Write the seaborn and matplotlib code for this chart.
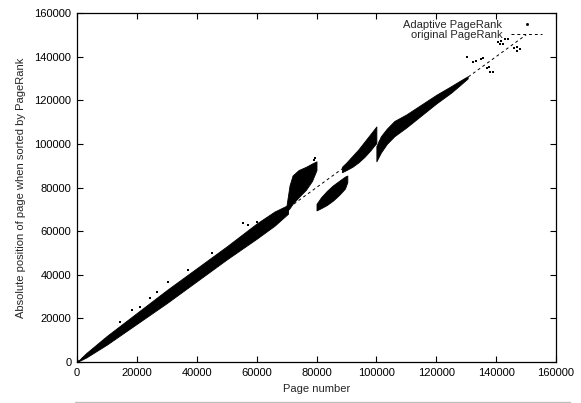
import matplotlib
matplotlib.use("Agg")
import matplotlib.pyplot as plt
from matplotlib.lines import Line2D
import seaborn as sns
import pandas as pd

# Dense Adaptive PageRank bands: page number, lower and upper rank bound
main_x  = [0, 3000, 10000, 20000, 30000, 40000, 50000, 60000, 66000, 70500]
main_lo = [0, 2000, 8000, 17500, 27000, 37000, 47000, 56500, 62500, 68000]
main_hi = [0, 4000, 12000, 22500, 33000, 43000, 53000, 63500, 69000, 72000]

upper_blob_x  = [70000, 71000, 72000, 74000, 76500, 78500, 80000]
upper_blob_lo = [69000, 70500, 72500, 75500, 79000, 83000, 88000]
upper_blob_hi = [72000, 81000, 85500, 88000, 89500, 91000, 92000]

lower_blob_x  = [80000, 81500, 83500, 85500, 87500, 89500, 90300]
lower_blob_lo = [69500, 70500, 72000, 74000, 76500, 79500, 82500]
lower_blob_hi = [72500, 75500, 78500, 81000, 83000, 85000, 85500]

spike_x  = [88500, 90000, 92000, 94000, 96000, 98000, 100000]
spike_lo = [87000, 88000, 89500, 91500, 94000, 97000, 100500]
spike_hi = [89500, 91500, 94500, 97500, 101000, 104500, 108000]

tail_x  = [100000, 101500, 103500, 106000, 110000, 115000, 120000, 125000, 128000, 130500]
tail_lo = [92000, 96000, 100000, 103500, 107500, 113000, 118500, 123500, 127000, 130000]
tail_hi = [99000, 103500, 107000, 110500, 113500, 118000, 122500, 126500, 129000, 131000]

# Isolated Adaptive PageRank pages
dots_x = [14360, 18270, 21040, 24380, 26600, 30500, 37180, 45000, 55550, 57200, 60000,
          79500, 79000, 130150, 132400, 133300, 134800, 135700, 136850, 137700,
          137950, 138850, 140700, 141600, 141300, 142400, 142950, 143850,
          145950, 146850, 147050, 148000]
dots_y = [18480, 23840, 25350, 29200, 32230, 36800, 42180, 49840, 63600, 62800, 64330,
          93400, 92600, 139980, 137700, 138100, 138800, 139200, 134600, 135100,
          132800, 133100, 146900, 147300, 145600, 146000, 147900, 148300,
          143800, 144200, 142700, 143300]

# original PageRank ordering
orig_x = [0, 150000]
orig_y = [0, 150000]

x_ticks = [0, 20000, 40000, 60000, 80000, 100000, 120000, 140000, 160000]
y_ticks = [0, 20000, 40000, 60000, 80000, 100000, 120000, 140000, 160000]

sns.set_theme(style="ticks")
plt.rcParams["font.family"] = ["Liberation Sans", "DejaVu Sans"]

fig = plt.figure(figsize=(5.81, 4.03), dpi=100)
ax = fig.add_axes([77 / 581, 41 / 403, 479 / 581, 349 / 403])

bands = [(main_x, main_lo, main_hi),
         (upper_blob_x, upper_blob_lo, upper_blob_hi),
         (lower_blob_x, lower_blob_lo, lower_blob_hi),
         (spike_x, spike_lo, spike_hi),
         (tail_x, tail_lo, tail_hi)]
for bx, lo, hi in bands:
    ax.fill_between(bx, lo, hi, color="black", linewidth=0.6, edgecolor="black")

dots = pd.DataFrame({"page": dots_x, "rank": dots_y})
sns.scatterplot(data=dots, x="page", y="rank", ax=ax, color="black", marker="s",
                s=2, linewidth=0, legend=False)

orig = pd.DataFrame({"page": orig_x, "rank": orig_y})
sns.lineplot(data=orig, x="page", y="rank", ax=ax, color="black", linewidth=0.7,
             legend=False)
ax.lines[-1].set_dashes((3, 3))

handles = [Line2D([], [], color="black", marker="s", markersize=1.0, linestyle="none"),
           Line2D([], [], color="black", linewidth=0.7, dashes=(3, 3))]
ax.legend(handles, ["Adaptive PageRank", "original PageRank"], loc="upper right",
          bbox_to_anchor=(0.985, 1.0), frameon=False, markerfirst=False,
          fontsize=8, handlelength=2.8, handletextpad=0.8, labelspacing=0.0,
          borderaxespad=0.2)

ax.set_xlim(0, 160000)
ax.set_ylim(0, 160000)
ax.set_xticks(x_ticks)
ax.set_yticks(y_ticks)
ax.set_xticklabels([str(t) for t in x_ticks])
ax.set_yticklabels([str(t) for t in y_ticks])
ax.tick_params(direction="in", length=4, width=0.8, top=True, right=True,
               labelsize=8, colors="black", pad=4)
for s in ax.spines.values():
    s.set_linewidth(0.9)
    s.set_color("black")
ax.set_xlabel("Page number", fontsize=8, labelpad=5)
ax.set_ylabel("Absolute position of page when sorted by PageRank", fontsize=8, labelpad=6)

fig.add_artist(Line2D([75 / 581, 570 / 581], [1.5 / 403, 1.5 / 403], color="#c0c0c0",
                      linewidth=1.0))

fig.savefig("out.png", dpi=100)
